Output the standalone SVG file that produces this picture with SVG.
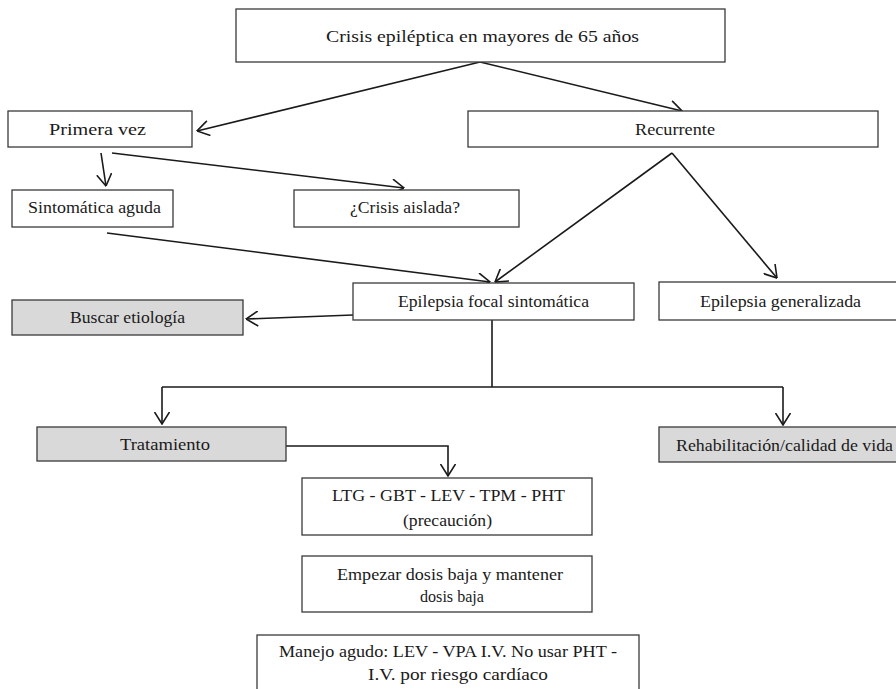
<svg xmlns="http://www.w3.org/2000/svg" width="896" height="689" viewBox="0 0 896 689">
<defs>
<style>
.box{fill:#ffffff;stroke:#3a3a3a;stroke-width:1.3}
.gray{fill:#d9d9d9;stroke:#3a3a3a;stroke-width:1.3}
.t{font-family:"Liberation Serif","Times New Roman",serif;font-size:17px;fill:#1a1a1a;text-anchor:middle}
.c{fill:none;stroke:#1a1a1a;stroke-width:1.6}
</style>
<marker id="ah" viewBox="0 0 13 16" refX="12.5" refY="8" markerWidth="13" markerHeight="16" markerUnits="userSpaceOnUse" orient="auto">
<path d="M0.5,0.5 L12.5,8 L0.5,15.5" fill="none" stroke="#1a1a1a" stroke-width="1.6"/>
</marker>
</defs>
<rect width="896" height="689" fill="#ffffff"/>
<g id="connectors">
<path class="c" d="M480,62 L197,131" marker-end="url(#ah)"/>
<path class="c" d="M480,62 L682,111" marker-end="url(#ah)"/>
<path class="c" d="M101,153 L106,186" marker-end="url(#ah)"/>
<path class="c" d="M112,153 L404,188" marker-end="url(#ah)"/>
<path class="c" d="M107,233 L490,282" marker-end="url(#ah)"/>
<path class="c" d="M672,153 L495,282" marker-end="url(#ah)"/>
<path class="c" d="M672,153 L777,278" marker-end="url(#ah)"/>
<path class="c" d="M353,315 L246,319" marker-end="url(#ah)"/>
<path class="c" d="M492,320 L492,387"/>
<path class="c" d="M162,387 L783,387"/>
<path class="c" d="M162,387 L162,424" marker-end="url(#ah)"/>
<path class="c" d="M783,387 L783,425" marker-end="url(#ah)"/>
<path class="c" d="M286,446 L448,446 L448,476" marker-end="url(#ah)"/>
</g>
<g id="n-top">
<rect class="box" x="236" y="9" width="489" height="53"/>
<text class="t" x="482.5" y="42" textLength="313" lengthAdjust="spacingAndGlyphs">Crisis epiléptica en mayores de 65 años</text>
</g>
<g id="n-primera">
<rect class="box" x="8" y="111" width="184" height="36"/>
<text class="t" x="97.5" y="135" textLength="97" lengthAdjust="spacingAndGlyphs">Primera vez</text>
</g>
<g id="n-recurrente">
<rect class="box" x="468" y="111" width="410" height="36"/>
<text class="t" x="675" y="135" textLength="80" lengthAdjust="spacingAndGlyphs">Recurrente</text>
</g>
<g id="n-sintomatica">
<rect class="box" x="12" y="190" width="161" height="37"/>
<text class="t" x="94.5" y="213" textLength="133" lengthAdjust="spacingAndGlyphs">Sintomática aguda</text>
</g>
<g id="n-aislada">
<rect class="box" x="294" y="190" width="225" height="37"/>
<text class="t" x="405" y="213" textLength="110" lengthAdjust="spacingAndGlyphs">¿Crisis aislada?</text>
</g>
<g id="n-focal">
<rect class="box" x="353" y="283" width="281" height="37"/>
<text class="t" x="493.5" y="307" textLength="191" lengthAdjust="spacingAndGlyphs">Epilepsia focal sintomática</text>
</g>
<g id="n-generalizada">
<rect class="box" x="659" y="282" width="243" height="38"/>
<text class="t" x="780.5" y="307" textLength="161" lengthAdjust="spacingAndGlyphs">Epilepsia generalizada</text>
</g>
<g id="n-buscar">
<rect class="gray" x="12" y="300" width="231" height="35"/>
<text class="t" x="127.5" y="323" textLength="115" lengthAdjust="spacingAndGlyphs">Buscar etiología</text>
</g>
<g id="n-tratamiento">
<rect class="gray" x="37" y="427" width="249" height="34"/>
<text class="t" x="165" y="450" textLength="90" lengthAdjust="spacingAndGlyphs">Tratamiento</text>
</g>
<g id="n-rehab">
<rect class="gray" x="659" y="427" width="251" height="35"/>
<text class="t" x="784.5" y="451" textLength="217" lengthAdjust="spacingAndGlyphs">Rehabilitación/calidad de vida</text>
</g>
<g id="n-farmacos">
<rect class="box" x="302" y="478" width="290" height="57"/>
<text class="t" x="448.5" y="501" textLength="233" lengthAdjust="spacingAndGlyphs">LTG - GBT - LEV - TPM - PHT</text>
<text class="t" x="447.5" y="526" textLength="89" lengthAdjust="spacingAndGlyphs">(precaución)</text>
</g>
<g id="n-dosis">
<rect class="box" x="302" y="556" width="290" height="56"/>
<text class="t" x="450" y="580" textLength="226" lengthAdjust="spacingAndGlyphs">Empezar dosis baja y mantener</text>
<text class="t" x="452" y="602" textLength="64" lengthAdjust="spacingAndGlyphs">dosis baja</text>
</g>
<g id="n-manejo">
<rect class="box" x="257" y="635" width="382" height="70"/>
<text class="t" x="448" y="657" textLength="338" lengthAdjust="spacingAndGlyphs">Manejo agudo: LEV  - VPA I.V. No usar PHT -</text>
<text class="t" x="458" y="680" textLength="180" lengthAdjust="spacingAndGlyphs">I.V. por riesgo cardíaco</text>
</g>
</svg>
